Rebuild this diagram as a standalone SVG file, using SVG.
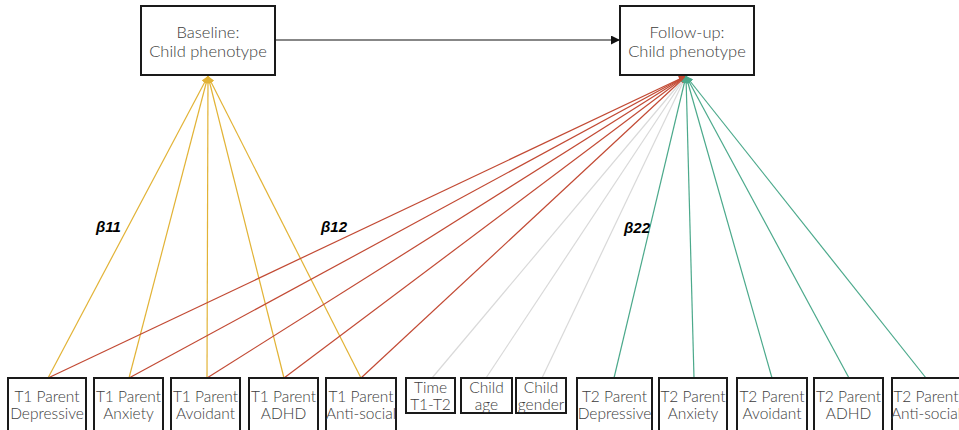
<svg xmlns="http://www.w3.org/2000/svg" width="959" height="430" viewBox="0 0 959 430">
<style>
.box{fill:#fff;stroke:#1a1a1a;stroke-width:2}
.t{font-family:Lato,"Open Sans","Liberation Sans",sans-serif;font-weight:300;font-size:15.5px;fill:#3c3c3c;text-anchor:middle}
.tt{font-size:16.5px}
.lbl{font-family:"Liberation Sans",Arial,sans-serif;font-weight:bold;font-style:italic;font-size:15px;fill:#000}
.y{stroke:#E2B336;stroke-width:1.2;fill:none}
.r{stroke:#C24A34;stroke-width:1.2;fill:none}
.g{stroke:#D9D9D9;stroke-width:1.2;fill:none}
.gr{stroke:#4BA98B;stroke-width:1.2;fill:none}
.k{stroke:#111;stroke-width:1.2;fill:none}
</style>
<defs>
<marker id="my" viewBox="0 0 10 10" refX="10" refY="5" markerWidth="7" markerHeight="7" markerUnits="userSpaceOnUse" orient="auto"><path d="M0,0L10,5L0,10z" fill="#E2B336"/></marker>
<marker id="mr" viewBox="0 0 10 10" refX="10" refY="5" markerWidth="7" markerHeight="7" markerUnits="userSpaceOnUse" orient="auto"><path d="M0,0L10,5L0,10z" fill="#C24A34"/></marker>
<marker id="mg" viewBox="0 0 10 10" refX="10" refY="5" markerWidth="7" markerHeight="7" markerUnits="userSpaceOnUse" orient="auto"><path d="M0,0L10,5L0,10z" fill="#D9D9D9"/></marker>
<marker id="mgr" viewBox="0 0 10 10" refX="10" refY="5" markerWidth="7" markerHeight="7" markerUnits="userSpaceOnUse" orient="auto"><path d="M0,0L10,5L0,10z" fill="#4BA98B"/></marker>
<marker id="mk" viewBox="0 0 10 10" refX="10" refY="5" markerWidth="9" markerHeight="9" markerUnits="userSpaceOnUse" orient="auto"><path d="M0,0L10,5L0,10z" fill="#111"/></marker>
</defs>
<g id="connectors">
<line class="k" x1="275" y1="40" x2="620" y2="40" marker-end="url(#mk)"/>
<line class="g" x1="432" y1="378" x2="686" y2="76" marker-end="url(#mg)"/>
<line class="g" x1="486" y1="378" x2="686" y2="76" marker-end="url(#mg)"/>
<line class="g" x1="542" y1="378" x2="686" y2="76" marker-end="url(#mg)"/>
<line class="y" x1="48" y1="378" x2="208" y2="76" marker-end="url(#my)"/>
<line class="y" x1="129" y1="378" x2="208" y2="76" marker-end="url(#my)"/>
<line class="y" x1="207" y1="378" x2="208" y2="76" marker-end="url(#my)"/>
<line class="y" x1="284" y1="378" x2="208" y2="76" marker-end="url(#my)"/>
<line class="y" x1="361" y1="378" x2="208" y2="76" marker-end="url(#my)"/>
<line class="r" x1="48" y1="378" x2="686" y2="76" marker-end="url(#mr)"/>
<line class="r" x1="129" y1="378" x2="686" y2="76" marker-end="url(#mr)"/>
<line class="r" x1="207" y1="378" x2="686" y2="76" marker-end="url(#mr)"/>
<line class="r" x1="284" y1="378" x2="686" y2="76" marker-end="url(#mr)"/>
<line class="r" x1="361" y1="378" x2="686" y2="76" marker-end="url(#mr)"/>
<line class="gr" x1="614" y1="378" x2="686" y2="76" marker-end="url(#mgr)"/>
<line class="gr" x1="694" y1="378" x2="686" y2="76" marker-end="url(#mgr)"/>
<line class="gr" x1="772" y1="378" x2="686" y2="76" marker-end="url(#mgr)"/>
<line class="gr" x1="849" y1="378" x2="686" y2="76" marker-end="url(#mgr)"/>
<line class="gr" x1="926" y1="378" x2="686" y2="76" marker-end="url(#mgr)"/>
<text class="lbl" x="96" y="232">β11</text>
<text class="lbl" x="321" y="232">β12</text>
<text class="lbl" x="624" y="233">β22</text>
</g>
<g id="baseline"><rect class="box" x="141" y="6" width="134" height="69"/><text class="t tt" x="208" y="38">Baseline:</text><text class="t tt" x="208" y="57">Child phenotype</text></g>
<g id="followup"><rect class="box" x="620" y="6" width="134" height="69"/><text class="t tt" x="687" y="38">Follow-up:</text><text class="t tt" x="687" y="57">Child phenotype</text></g>
<g id="t1dep"><rect class="box" x="8" y="378" width="78" height="60"/><text class="t" x="47" y="402">T1 Parent</text><text class="t" x="47" y="419">Depressive</text></g>
<g id="t1anx"><rect class="box" x="94" y="378" width="69" height="60"/><text class="t" x="128.5" y="402">T1 Parent</text><text class="t" x="128.5" y="419">Anxiety</text></g>
<g id="t1avo"><rect class="box" x="171" y="378" width="69" height="60"/><text class="t" x="205.5" y="402">T1 Parent</text><text class="t" x="205.5" y="419">Avoidant</text></g>
<g id="t1adhd"><rect class="box" x="249" y="378" width="69" height="60"/><text class="t" x="283.5" y="402">T1 Parent</text><text class="t" x="283.5" y="419">ADHD</text></g>
<g id="t1anti"><rect class="box" x="326" y="378" width="70" height="60"/><text class="t" x="361" y="402">T1 Parent</text><text class="t" x="361" y="419">Anti-social</text></g>
<g id="time"><rect class="box" x="406" y="378" width="49" height="35"/><text class="t" x="430.5" y="393">Time</text><text class="t" x="430.5" y="410">T1-T2</text></g>
<g id="age"><rect class="box" x="461" y="378" width="51" height="35"/><text class="t" x="486.5" y="393">Child</text><text class="t" x="486.5" y="410">age</text></g>
<g id="gender"><rect class="box" x="516" y="378" width="50" height="35"/><text class="t" x="541" y="393">Child</text><text class="t" x="541" y="410">gender</text></g>
<g id="t2dep"><rect class="box" x="577" y="378" width="75" height="60"/><text class="t" x="614.5" y="402">T2 Parent</text><text class="t" x="614.5" y="419">Depressive</text></g>
<g id="t2anx"><rect class="box" x="659" y="378" width="68" height="60"/><text class="t" x="693" y="402">T2 Parent</text><text class="t" x="693" y="419">Anxiety</text></g>
<g id="t2avo"><rect class="box" x="737" y="378" width="70" height="60"/><text class="t" x="772" y="402">T2 Parent</text><text class="t" x="772" y="419">Avoidant</text></g>
<g id="t2adhd"><rect class="box" x="814" y="378" width="69" height="60"/><text class="t" x="848.5" y="402">T2 Parent</text><text class="t" x="848.5" y="419">ADHD</text></g>
<g id="t2anti"><rect class="box" x="892" y="378" width="72" height="60"/><text class="t" x="926" y="402">T2 Parent</text><text class="t" x="926" y="419">Anti-social</text></g>
</svg>
